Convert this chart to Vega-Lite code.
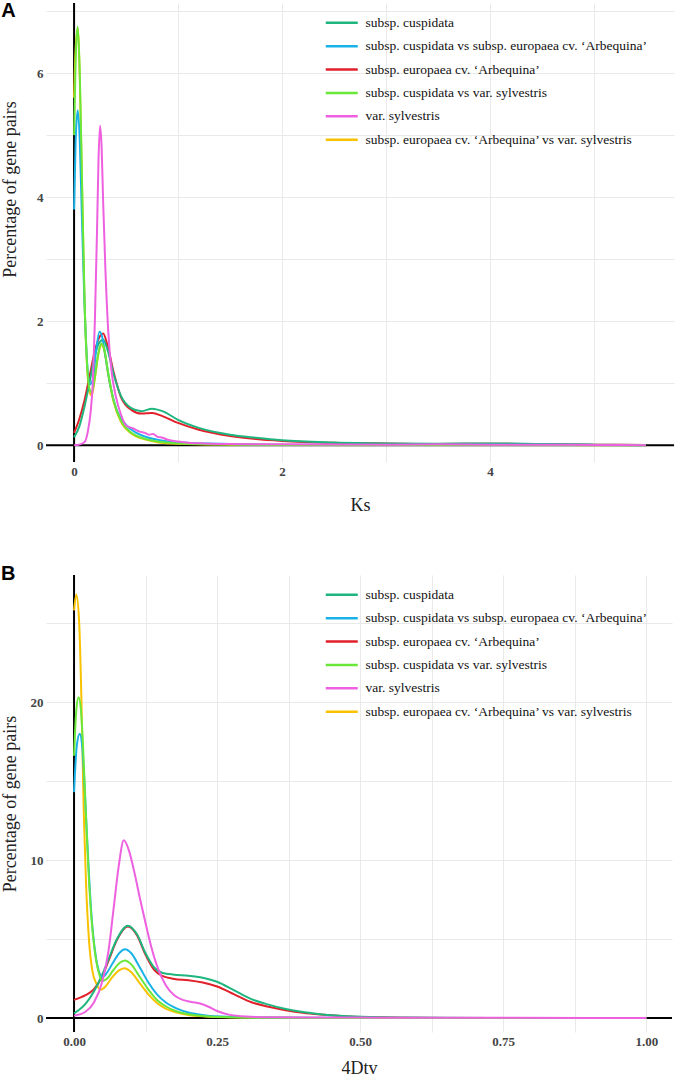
{
  "$schema": "https://vega.github.io/schema/vega-lite/v6.json",
  "background": "white",
  "padding": {"left": 1, "top": 1, "right": 0, "bottom": 0},
  "config": {
    "view": {"stroke": null},
    "axis": {
      "domain": false, "ticks": false, "tickSize": 0, "grid": true, "gridColor": "#e9e9e9", "gridWidth": 1,
      "labelFont": "Liberation Serif", "labelFontWeight": "bold", "labelFontSize": 13, "labelColor": "#444444",
      "titleFont": "Liberation Serif", "titleFontWeight": "normal", "titleFontSize": 18, "titleColor": "#222222"
    },
    "legend": {
      "orient": "none", "padding": 0, "title": null,
      "symbolType": "M-3.2,0H3.2", "symbolSize": 100, "symbolStrokeWidth": 2.5, "symbolFillColor": "transparent",
      "labelFont": "Liberation Serif", "labelFontSize": 13.5, "labelColor": "#111111", "labelOffset": 17,
      "rowPadding": 8.4, "labelLimit": 400
    }
  },
  "datasets": {
    "ks": [
      {"s":"AS","x":0,"y":5.6},{"s":"AS","x":0.015,"y":6.4},{"s":"AS","x":0.035,"y":6.72},{"s":"AS","x":0.055,"y":5.9},{"s":"AS","x":0.075,"y":4.3},{"s":"AS","x":0.1,"y":2.35},{"s":"AS","x":0.125,"y":1.28},{"s":"AS","x":0.15,"y":0.85},{"s":"AS","x":0.17,"y":0.8},{"s":"AS","x":0.2,"y":1.08},{"s":"AS","x":0.235,"y":1.48},{"s":"AS","x":0.265,"y":1.62},{"s":"AS","x":0.29,"y":1.53},{"s":"AS","x":0.33,"y":1.12},{"s":"AS","x":0.38,"y":0.7},{"s":"AS","x":0.45,"y":0.38},{"s":"AS","x":0.55,"y":0.19},{"s":"AS","x":0.65,"y":0.11},{"s":"AS","x":0.8,"y":0.05},{"s":"AS","x":1.0,"y":0.025},{"s":"AS","x":1.5,"y":0.01},{"s":"AS","x":2.0,"y":0.005},{"s":"AS","x":3.0,"y":0.003},{"s":"AS","x":4.0,"y":0.005},{"s":"AS","x":5.5,"y":0.001},

      {"s":"A","x":0,"y":0.2},{"s":"A","x":0.05,"y":0.42},{"s":"A","x":0.1,"y":0.72},{"s":"A","x":0.15,"y":1.12},{"s":"A","x":0.2,"y":1.52},{"s":"A","x":0.25,"y":1.76},{"s":"A","x":0.28,"y":1.8},{"s":"A","x":0.32,"y":1.62},{"s":"A","x":0.38,"y":1.18},{"s":"A","x":0.45,"y":0.78},{"s":"A","x":0.55,"y":0.57},{"s":"A","x":0.65,"y":0.51},{"s":"A","x":0.75,"y":0.52},{"s":"A","x":0.85,"y":0.47},{"s":"A","x":1.0,"y":0.36},{"s":"A","x":1.2,"y":0.25},{"s":"A","x":1.5,"y":0.15},{"s":"A","x":1.75,"y":0.1},{"s":"A","x":2.0,"y":0.07},{"s":"A","x":2.5,"y":0.04},{"s":"A","x":3.0,"y":0.03},{"s":"A","x":3.5,"y":0.02},{"s":"A","x":4.0,"y":0.025},{"s":"A","x":4.5,"y":0.015},{"s":"A","x":5.0,"y":0.01},{"s":"A","x":5.5,"y":0.005},

      {"s":"c","x":0,"y":0.13},{"s":"c","x":0.05,"y":0.3},{"s":"c","x":0.1,"y":0.62},{"s":"c","x":0.15,"y":1.02},{"s":"c","x":0.2,"y":1.45},{"s":"c","x":0.25,"y":1.67},{"s":"c","x":0.28,"y":1.7},{"s":"c","x":0.32,"y":1.55},{"s":"c","x":0.38,"y":1.15},{"s":"c","x":0.45,"y":0.8},{"s":"c","x":0.55,"y":0.6},{"s":"c","x":0.65,"y":0.55},{"s":"c","x":0.75,"y":0.59},{"s":"c","x":0.85,"y":0.55},{"s":"c","x":1.0,"y":0.41},{"s":"c","x":1.2,"y":0.28},{"s":"c","x":1.5,"y":0.17},{"s":"c","x":1.75,"y":0.12},{"s":"c","x":2.0,"y":0.08},{"s":"c","x":2.5,"y":0.045},{"s":"c","x":3.0,"y":0.03},{"s":"c","x":3.5,"y":0.025},{"s":"c","x":4.0,"y":0.03},{"s":"c","x":4.5,"y":0.02},{"s":"c","x":5.0,"y":0.01},{"s":"c","x":5.5,"y":0.005},

      {"s":"cA","x":0,"y":3.8},{"s":"cA","x":0.015,"y":4.9},{"s":"cA","x":0.035,"y":5.4},{"s":"cA","x":0.055,"y":4.9},{"s":"cA","x":0.075,"y":3.7},{"s":"cA","x":0.1,"y":2.3},{"s":"cA","x":0.125,"y":1.35},{"s":"cA","x":0.15,"y":0.98},{"s":"cA","x":0.18,"y":1.05},{"s":"cA","x":0.21,"y":1.5},{"s":"cA","x":0.245,"y":1.83},{"s":"cA","x":0.27,"y":1.75},{"s":"cA","x":0.3,"y":1.45},{"s":"cA","x":0.35,"y":0.95},{"s":"cA","x":0.4,"y":0.62},{"s":"cA","x":0.5,"y":0.33},{"s":"cA","x":0.6,"y":0.2},{"s":"cA","x":0.7,"y":0.13},{"s":"cA","x":0.8,"y":0.09},{"s":"cA","x":1.0,"y":0.05},{"s":"cA","x":1.5,"y":0.02},{"s":"cA","x":2.0,"y":0.01},{"s":"cA","x":3.0,"y":0.005},{"s":"cA","x":4.0,"y":0.008},{"s":"cA","x":5.5,"y":0.002},

      {"s":"cS","x":0,"y":5.0},{"s":"cS","x":0.015,"y":6.2},{"s":"cS","x":0.035,"y":6.75},{"s":"cS","x":0.055,"y":6.0},{"s":"cS","x":0.075,"y":4.4},{"s":"cS","x":0.1,"y":2.4},{"s":"cS","x":0.125,"y":1.3},{"s":"cS","x":0.15,"y":0.9},{"s":"cS","x":0.17,"y":0.85},{"s":"cS","x":0.2,"y":1.1},{"s":"cS","x":0.235,"y":1.5},{"s":"cS","x":0.265,"y":1.64},{"s":"cS","x":0.29,"y":1.55},{"s":"cS","x":0.33,"y":1.15},{"s":"cS","x":0.38,"y":0.72},{"s":"cS","x":0.45,"y":0.4},{"s":"cS","x":0.55,"y":0.2},{"s":"cS","x":0.65,"y":0.12},{"s":"cS","x":0.8,"y":0.06},{"s":"cS","x":1.0,"y":0.03},{"s":"cS","x":1.5,"y":0.012},{"s":"cS","x":2.0,"y":0.006},{"s":"cS","x":3.0,"y":0.004},{"s":"cS","x":4.0,"y":0.006},{"s":"cS","x":5.5,"y":0.001},

      {"s":"S","x":0,"y":0},{"s":"S","x":0.05,"y":0.01},{"s":"S","x":0.1,"y":0.05},{"s":"S","x":0.13,"y":0.2},{"s":"S","x":0.16,"y":0.55},{"s":"S","x":0.18,"y":1.0},{"s":"S","x":0.2,"y":2.0},{"s":"S","x":0.22,"y":3.4},{"s":"S","x":0.235,"y":4.6},{"s":"S","x":0.25,"y":5.15},{"s":"S","x":0.265,"y":4.8},{"s":"S","x":0.28,"y":3.9},{"s":"S","x":0.3,"y":2.9},{"s":"S","x":0.33,"y":1.8},{"s":"S","x":0.36,"y":1.2},{"s":"S","x":0.4,"y":0.8},{"s":"S","x":0.45,"y":0.5},{"s":"S","x":0.5,"y":0.32},{"s":"S","x":0.57,"y":0.27},{"s":"S","x":0.63,"y":0.22},{"s":"S","x":0.68,"y":0.2},{"s":"S","x":0.72,"y":0.17},{"s":"S","x":0.76,"y":0.18},{"s":"S","x":0.8,"y":0.14},{"s":"S","x":0.85,"y":0.12},{"s":"S","x":0.9,"y":0.09},{"s":"S","x":1.0,"y":0.06},{"s":"S","x":1.1,"y":0.04},{"s":"S","x":1.25,"y":0.03},{"s":"S","x":1.5,"y":0.02},{"s":"S","x":2.0,"y":0.015},{"s":"S","x":2.5,"y":0.012},{"s":"S","x":3.0,"y":0.01},{"s":"S","x":3.5,"y":0.015},{"s":"S","x":4.0,"y":0.01},{"s":"S","x":4.5,"y":0.008},{"s":"S","x":5.0,"y":0.005},{"s":"S","x":5.5,"y":0.002}
    ],
    "dtv": [
      {"s":"AS","x":0,"y":25.8},{"s":"AS","x":0.004,"y":26.8},{"s":"AS","x":0.009,"y":25.0},{"s":"AS","x":0.013,"y":20.0},{"s":"AS","x":0.017,"y":13.0},{"s":"AS","x":0.021,"y":8.5},{"s":"AS","x":0.026,"y":5.0},{"s":"AS","x":0.032,"y":3.0},{"s":"AS","x":0.04,"y":2.1},{"s":"AS","x":0.047,"y":1.8},{"s":"AS","x":0.055,"y":2.0},{"s":"AS","x":0.065,"y":2.5},{"s":"AS","x":0.078,"y":3.0},{"s":"AS","x":0.088,"y":3.15},{"s":"AS","x":0.1,"y":2.9},{"s":"AS","x":0.115,"y":2.2},{"s":"AS","x":0.13,"y":1.5},{"s":"AS","x":0.145,"y":0.95},{"s":"AS","x":0.16,"y":0.6},{"s":"AS","x":0.18,"y":0.35},{"s":"AS","x":0.2,"y":0.2},{"s":"AS","x":0.23,"y":0.1},{"s":"AS","x":0.27,"y":0.05},{"s":"AS","x":0.35,"y":0.02},{"s":"AS","x":0.5,"y":0.01},{"s":"AS","x":0.75,"y":0.005},{"s":"AS","x":1.0,"y":0.002},

      {"s":"A","x":0,"y":1.15},{"s":"A","x":0.02,"y":1.45},{"s":"A","x":0.034,"y":1.8},{"s":"A","x":0.048,"y":2.55},{"s":"A","x":0.06,"y":3.6},{"s":"A","x":0.075,"y":4.95},{"s":"A","x":0.094,"y":5.8},{"s":"A","x":0.11,"y":5.25},{"s":"A","x":0.125,"y":4.0},{"s":"A","x":0.14,"y":3.05},{"s":"A","x":0.155,"y":2.65},{"s":"A","x":0.175,"y":2.48},{"s":"A","x":0.2,"y":2.4},{"s":"A","x":0.225,"y":2.25},{"s":"A","x":0.25,"y":2.0},{"s":"A","x":0.28,"y":1.5},{"s":"A","x":0.31,"y":1.0},{"s":"A","x":0.34,"y":0.72},{"s":"A","x":0.37,"y":0.5},{"s":"A","x":0.4,"y":0.33},{"s":"A","x":0.43,"y":0.22},{"s":"A","x":0.47,"y":0.12},{"s":"A","x":0.52,"y":0.06},{"s":"A","x":0.58,"y":0.025},{"s":"A","x":0.65,"y":0.012},{"s":"A","x":0.8,"y":0.005},{"s":"A","x":1.0,"y":0.002},

      {"s":"c","x":0,"y":0.3},{"s":"c","x":0.02,"y":0.9},{"s":"c","x":0.035,"y":1.7},{"s":"c","x":0.048,"y":2.65},{"s":"c","x":0.06,"y":3.7},{"s":"c","x":0.075,"y":5.0},{"s":"c","x":0.094,"y":5.85},{"s":"c","x":0.11,"y":5.3},{"s":"c","x":0.125,"y":4.1},{"s":"c","x":0.14,"y":3.2},{"s":"c","x":0.155,"y":2.85},{"s":"c","x":0.175,"y":2.75},{"s":"c","x":0.2,"y":2.68},{"s":"c","x":0.225,"y":2.55},{"s":"c","x":0.25,"y":2.3},{"s":"c","x":0.28,"y":1.75},{"s":"c","x":0.31,"y":1.2},{"s":"c","x":0.34,"y":0.85},{"s":"c","x":0.37,"y":0.57},{"s":"c","x":0.4,"y":0.38},{"s":"c","x":0.43,"y":0.25},{"s":"c","x":0.47,"y":0.14},{"s":"c","x":0.52,"y":0.07},{"s":"c","x":0.58,"y":0.03},{"s":"c","x":0.65,"y":0.015},{"s":"c","x":0.8,"y":0.006},{"s":"c","x":1.0,"y":0.002},

      {"s":"cA","x":0,"y":14.3},{"s":"cA","x":0.005,"y":17.3},{"s":"cA","x":0.01,"y":18.0},{"s":"cA","x":0.014,"y":17.3},{"s":"cA","x":0.018,"y":15.0},{"s":"cA","x":0.022,"y":12.0},{"s":"cA","x":0.027,"y":8.5},{"s":"cA","x":0.032,"y":5.8},{"s":"cA","x":0.038,"y":3.9},{"s":"cA","x":0.044,"y":2.9},{"s":"cA","x":0.05,"y":2.6},{"s":"cA","x":0.058,"y":2.9},{"s":"cA","x":0.068,"y":3.5},{"s":"cA","x":0.08,"y":4.15},{"s":"cA","x":0.089,"y":4.35},{"s":"cA","x":0.1,"y":4.1},{"s":"cA","x":0.115,"y":3.2},{"s":"cA","x":0.13,"y":2.25},{"s":"cA","x":0.145,"y":1.5},{"s":"cA","x":0.16,"y":1.0},{"s":"cA","x":0.18,"y":0.6},{"s":"cA","x":0.2,"y":0.35},{"s":"cA","x":0.23,"y":0.17},{"s":"cA","x":0.27,"y":0.08},{"s":"cA","x":0.35,"y":0.03},{"s":"cA","x":0.5,"y":0.01},{"s":"cA","x":0.75,"y":0.005},{"s":"cA","x":1.0,"y":0.002},

      {"s":"cS","x":0,"y":16.6},{"s":"cS","x":0.004,"y":19.5},{"s":"cS","x":0.008,"y":20.3},{"s":"cS","x":0.012,"y":19.5},{"s":"cS","x":0.016,"y":17.0},{"s":"cS","x":0.02,"y":13.5},{"s":"cS","x":0.025,"y":9.5},{"s":"cS","x":0.03,"y":6.5},{"s":"cS","x":0.036,"y":4.3},{"s":"cS","x":0.043,"y":2.9},{"s":"cS","x":0.05,"y":2.35},{"s":"cS","x":0.058,"y":2.5},{"s":"cS","x":0.068,"y":3.0},{"s":"cS","x":0.08,"y":3.5},{"s":"cS","x":0.089,"y":3.65},{"s":"cS","x":0.1,"y":3.4},{"s":"cS","x":0.115,"y":2.6},{"s":"cS","x":0.13,"y":1.8},{"s":"cS","x":0.145,"y":1.15},{"s":"cS","x":0.16,"y":0.75},{"s":"cS","x":0.18,"y":0.42},{"s":"cS","x":0.2,"y":0.25},{"s":"cS","x":0.23,"y":0.12},{"s":"cS","x":0.27,"y":0.06},{"s":"cS","x":0.35,"y":0.02},{"s":"cS","x":0.5,"y":0.01},{"s":"cS","x":0.75,"y":0.005},{"s":"cS","x":1.0,"y":0.002},

      {"s":"S","x":0,"y":0.15},{"s":"S","x":0.02,"y":0.4},{"s":"S","x":0.035,"y":1.0},{"s":"S","x":0.05,"y":2.4},{"s":"S","x":0.06,"y":4.2},{"s":"S","x":0.07,"y":7.2},{"s":"S","x":0.078,"y":9.6},{"s":"S","x":0.087,"y":11.25},{"s":"S","x":0.096,"y":10.6},{"s":"S","x":0.105,"y":9.3},{"s":"S","x":0.115,"y":7.6},{"s":"S","x":0.125,"y":6.0},{"s":"S","x":0.135,"y":4.5},{"s":"S","x":0.145,"y":3.3},{"s":"S","x":0.16,"y":2.1},{"s":"S","x":0.175,"y":1.45},{"s":"S","x":0.19,"y":1.15},{"s":"S","x":0.205,"y":1.02},{"s":"S","x":0.22,"y":0.92},{"s":"S","x":0.235,"y":0.72},{"s":"S","x":0.25,"y":0.45},{"s":"S","x":0.27,"y":0.22},{"s":"S","x":0.3,"y":0.1},{"s":"S","x":0.35,"y":0.05},{"s":"S","x":0.4,"y":0.04},{"s":"S","x":0.5,"y":0.03},{"s":"S","x":0.6,"y":0.02},{"s":"S","x":0.75,"y":0.015},{"s":"S","x":0.9,"y":0.01},{"s":"S","x":1.0,"y":0.005}
    ]
  },
  "vconcat": [
    {
      "width": 628,
      "height": 459,
      "layer": [
        {"data": {"values": [{}]}, "mark": {"type": "rule", "color": "black", "strokeWidth": 2}, "encoding": {"y": {"datum": 0, "type": "quantitative"}}},
        {"data": {"values": [{}]}, "mark": {"type": "rule", "color": "black", "strokeWidth": 2}, "encoding": {"x": {"datum": 0, "type": "quantitative"}}},
        {
          "data": {"name": "ks"},
          "mark": {"type": "line", "strokeWidth": 2, "interpolate": "monotone"},
          "encoding": {
            "x": {"field": "x", "type": "quantitative", "scale": {"domain": [-0.27, 5.77], "nice": false, "zero": false},
              "axis": {"title": "Ks", "format": "d", "values": [0,1,2,3,4,5], "labelExpr": "datum.value % 2 == 0 ? datum.label : ''", "labelPadding": 3, "titlePadding": 18}},
            "y": {"field": "y", "type": "quantitative", "scale": {"domain": [-0.27, 7.13], "nice": false, "zero": false},
              "axis": {"title": "Percentage of gene pairs", "format": "d", "values": [0,1,2,3,4,5,6,7], "labelExpr": "datum.value % 2 == 0 ? datum.label : ''", "labelPadding": 3, "minExtent": 16, "maxExtent": 16, "titlePadding": 11, "titleY": 186}},
            "color": {"field": "s", "type": "nominal",
              "scale": {"domain": ["c","cA","A","cS","S","AS"], "range": ["#1fb57f","#19b2e8","#e0202a","#6ae83a","#ee60e0","#f8c200"]},
              "legend": {"legendX": 289, "legendY": 13,
                "labelExpr": "datum.value == 'c' ? 'subsp. cuspidata' : datum.value == 'cA' ? 'subsp. cuspidata  vs  subsp. europaea cv. ‘Arbequina’' : datum.value == 'A' ? 'subsp. europaea cv. ‘Arbequina’' : datum.value == 'cS' ? 'subsp. cuspidata  vs   var. sylvestris' : datum.value == 'S' ? 'var. sylvestris' : 'subsp. europaea cv. ‘Arbequina’  vs  var. sylvestris'"}}
          }
        },
        {"data": {"values": [{}]}, "mark": {"type": "text", "text": "A", "font": "Liberation Sans", "fontWeight": "bold", "fontSize": 20, "align": "center", "baseline": "middle", "color": "black"},
          "encoding": {"x": {"datum": -0.63, "type": "quantitative"}, "y": {"datum": 7.0, "type": "quantitative"}}}
      ]
    },
    {
      "width": 626,
      "height": 457,
      "layer": [
        {"data": {"values": [{}]}, "mark": {"type": "rule", "color": "black", "strokeWidth": 2}, "encoding": {"y": {"datum": 0, "type": "quantitative"}}},
        {"data": {"values": [{}]}, "mark": {"type": "rule", "color": "black", "strokeWidth": 2}, "encoding": {"x": {"datum": 0, "type": "quantitative"}}},
        {
          "data": {"name": "dtv"},
          "mark": {"type": "line", "strokeWidth": 2, "interpolate": "monotone"},
          "encoding": {
            "x": {"field": "x", "type": "quantitative", "scale": {"domain": [-0.049, 1.045], "nice": false, "zero": false},
              "axis": {"title": "4Dtv", "values": [0,0.125,0.25,0.375,0.5,0.625,0.75,0.875,1.0], "labelExpr": "abs(datum.value*4 - round(datum.value*4)) < 0.000001 ? format(datum.value, '.2f') : ''", "labelPadding": 3, "titlePadding": 11}},
            "y": {"field": "y", "type": "quantitative", "scale": {"domain": [-0.88, 28.04], "nice": false, "zero": false},
              "axis": {"title": "Percentage of gene pairs", "format": "d", "values": [0,5,10,15,20,25], "labelExpr": "datum.value % 10 == 0 ? datum.label : ''", "labelPadding": 3, "minExtent": 16, "maxExtent": 16, "titlePadding": 11}},
            "color": {"field": "s", "type": "nominal",
              "scale": {"domain": ["c","cA","A","cS","S","AS"], "range": ["#1fb57f","#19b2e8","#e0202a","#6ae83a","#ee60e0","#f8c200"]},
              "legend": {"legendX": 289, "legendY": 13,
                "labelExpr": "datum.value == 'c' ? 'subsp. cuspidata' : datum.value == 'cA' ? 'subsp. cuspidata  vs  subsp. europaea cv. ‘Arbequina’' : datum.value == 'A' ? 'subsp. europaea cv. ‘Arbequina’' : datum.value == 'cS' ? 'subsp. cuspidata vs var. sylvestris' : datum.value == 'S' ? 'var. sylvestris' : 'subsp. europaea cv. ‘Arbequina’ vs var. sylvestris'"}}
          }
        },
        {"data": {"values": [{}]}, "mark": {"type": "text", "text": "B", "font": "Liberation Sans", "fontWeight": "bold", "fontSize": 20, "align": "center", "baseline": "middle", "color": "black"},
          "encoding": {"x": {"datum": -0.115, "type": "quantitative"}, "y": {"datum": 28.1, "type": "quantitative"}}}
      ]
    }
  ],
  "spacing": 50,
  "resolve": {"scale": {"color": "independent"}, "legend": {"color": "independent"}}
}
